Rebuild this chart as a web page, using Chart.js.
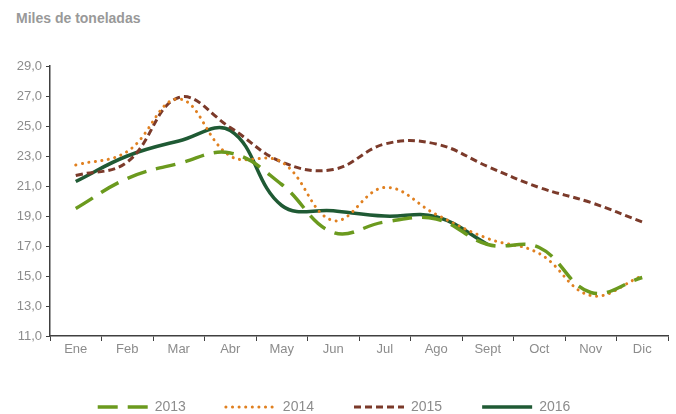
<!DOCTYPE html>
<html>
<head>
<meta charset="utf-8">
<script src="https://cdn.jsdelivr.net/npm/chart.js@4.4.1/dist/chart.umd.min.js"></script>
<style>
  html, body { margin: 0; padding: 0; background: #fff; }
  #wrap { position: relative; width: 676px; height: 414px; }
  #title { position: absolute; left: 16px; top: 10px; font: bold 14px "Liberation Sans", Arial, sans-serif; color: #999; }
  canvas { position: absolute; left: 0; top: 0; }
</style>
</head>
<body>
<div id="wrap">
  <div id="title">Miles de toneladas</div>
  <canvas id="c" width="676" height="414"></canvas>
</div>
<script>
const categories = ["Ene","Feb","Mar","Abr","May","Jun","Jul","Ago","Sept","Oct","Nov","Dic"];
const seriesNames = ["2013","2014","2015","2016"];
const values2013 = [19.5, 21.5, 22.5, 23.2, 21.1, 17.9, 18.6, 18.8, 17.1, 16.9, 13.9, 14.9];
const values2014 = [22.4, 23.3, 26.8, 23.0, 22.6, 18.7, 20.9, 19.1, 17.5, 16.5, 13.7, 15.0];
const values2015 = [21.7, 22.6, 26.9, 24.9, 22.6, 22.1, 23.8, 23.8, 22.3, 20.9, 19.9, 18.6];
const values2016 = [21.3, 23.0, 24.0, 24.7, 19.7, 19.35, 19.0, 18.95, 17.1, null, null, null];
const yTicks = [11, 13, 15, 17, 19, 21, 23, 25, 27, 29];

const gray = "#8c8c8c";
const axisColor = "#404040";
const font = { family: "'Liberation Sans', Arial, sans-serif", size: 13 };

const mk = (label, data, color, width, dash, cap) => ({
  label, data,
  borderColor: color, backgroundColor: color,
  borderWidth: width, borderDash: dash, borderCapStyle: cap,
  pointRadius: 0, pointHoverRadius: 0, pointStyle: 'line',
  tension: 0.4, cubicInterpolationMode: 'default', fill: false, spanGaps: false
});

const legendFix = {
  id: 'legendFix',
  beforeLayout(chart) {
    const lg = chart.legend;
    if (lg && !lg._fitPatched) {
      const origFit = lg.fit;
      lg.fit = function () { origFit.call(this); this.height = 54; };
      lg._fitPatched = true;
    }
  }
};

new Chart(document.getElementById('c'), {
  type: 'line',
  plugins: [legendFix],
  data: {
    labels: categories,
    datasets: [
      mk(seriesNames[0], values2013, "#6b9a1e", 3.5, [20, 10], 'butt'),
      mk(seriesNames[1], values2014, "#e08020", 3, [0.1, 6.5], 'round'),
      mk(seriesNames[2], values2015, "#7b3a2a", 3, [7, 4], 'butt'),
      mk(seriesNames[3], values2016, "#1f5a34", 3.5, [], 'butt')
    ]
  },
  options: {
    responsive: false,
    animation: false,
    devicePixelRatio: 1,
    layout: { padding: { top: 66, right: 8, left: 0, bottom: 0 } },
    plugins: {
      title: { display: false },
      tooltip: { enabled: false },
      legend: {
        position: 'bottom',
        labels: {
          usePointStyle: true,
          pointStyleWidth: 50,
          boxHeight: 13,
          padding: 40,
          color: gray,
          font: { family: font.family, size: 14 },
          generateLabels: chart => Chart.defaults.plugins.legend.labels.generateLabels(chart).map((it, i) => {
            const ds = chart.data.datasets[i];
            return Object.assign({}, it, {
              pointStyle: 'line',
              lineDash: ds.borderDash,
              lineCap: ds.borderCapStyle,
              lineWidth: ds.borderWidth,
              strokeStyle: ds.borderColor,
              fillStyle: ds.borderColor
            });
          })
        }
      }
    },
    scales: {
      x: {
        offset: true,
        grid: { display: true, offset: true, drawOnChartArea: false, drawTicks: true, tickLength: 5, color: axisColor, tickColor: axisColor },
        border: { display: true, color: axisColor, width: 1.5 },
        ticks: { color: gray, font: font, padding: 1, maxRotation: 0, autoSkip: false },
        afterFit: s => { s.height = 24; }
      },
      y: {
        min: 11, max: 29,
        afterBuildTicks: s => { s.ticks = yTicks.map(v => ({ value: v })); },
        grid: { display: true, drawOnChartArea: false, drawTicks: true, tickLength: 4, color: axisColor, tickColor: axisColor },
        border: { display: true, color: axisColor, width: 1.5 },
        ticks: { color: gray, font: font, padding: 4, callback: v => Number(v).toFixed(1).replace('.', ',') },
        afterFit: s => { s.width = 50; }
      }
    }
  }
});
</script>
</body>
</html>
